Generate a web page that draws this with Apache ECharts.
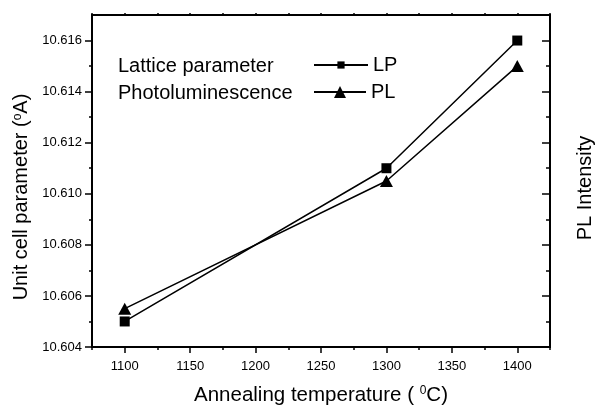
<!DOCTYPE html>
<html>
<head>
<meta charset="utf-8">
<script src="https://cdn.jsdelivr.net/npm/echarts@6/dist/echarts.min.js"></script>
<style>
html, body { margin: 0; padding: 0; background: #fff; }
#chart { width: 596px; height: 408px; }
</style>
</head>
<body>
<div id="chart"></div>
<script>
// annealing temperatures and measured values
const temps = [1100, 1300, 1400]
const lpValues = [10.605, 10.611, 10.616]
const plValues = [10.6055, 10.6105, 10.615]

const xMajorTicks = [1100, 1150, 1200, 1250, 1300, 1350, 1400]
const xMinorTicks = [1075, 1125, 1175, 1225, 1275, 1325, 1375, 1425]
const yMajorTicks = [10.604, 10.606, 10.608, 10.610, 10.612, 10.614, 10.616]
const yMinorTicks = [10.605, 10.607, 10.609, 10.611, 10.613, 10.615]

const FONT = 'Liberation Sans, Arial, sans-serif'
const supStyle = { fontSize: 12, verticalAlign: 'top', padding: [0, 0, 8, 0], fontFamily: FONT, color: '#000' }

const chart = echarts.init(document.getElementById('chart'))

const baseX = {
    type: 'value',
    min: 1075,
    max: 1425,
    splitLine: { show: false },
    axisLine: { lineStyle: { color: '#000', width: 2 } },
}
const baseY = {
    type: 'value',
    min: 10.604,
    max: 10.617,
    splitLine: { show: false },
    axisLine: { show: true, lineStyle: { color: '#000', width: 2 } },
}

chart.setOption({
    animation: false,
    grid: { left: 92, right: 46, top: 15, bottom: 61, outerBoundsMode: 'none', containLabel: false },
    xAxis: [
        Object.assign({}, baseX, {
            position: 'bottom',
            name: 'Annealing temperature ( {sup|0}C)',
            nameLocation: 'middle',
            nameGap: 38,
            nameTextStyle: { fontSize: 20.5, fontFamily: FONT, color: '#000', rich: { sup: supStyle } },
            axisTick: { customValues: xMajorTicks, length: 6, lineStyle: { color: '#000', width: 1.5 } },
            axisLabel: {
                customValues: xMajorTicks, margin: 13, fontSize: 13, fontFamily: FONT, color: '#000',
                formatter: v => String(v)
            },
        }),
        Object.assign({}, baseX, {
            position: 'bottom',
            axisTick: { customValues: xMinorTicks, length: 3, lineStyle: { color: '#000', width: 1.5 } },
            axisLabel: { show: false },
        }),
        Object.assign({}, baseX, {
            position: 'top',
            interval: 25,
            axisTick: { length: 2, lineStyle: { color: '#000', width: 1.5 } },
            axisLabel: { show: false },
        }),
    ],
    yAxis: [
        Object.assign({}, baseY, {
            position: 'left',
            name: 'Unit cell parameter ({sup|o}A)',
            nameLocation: 'middle',
            nameRotate: 90,
            nameGap: 60,
            nameTextStyle: { fontSize: 20, fontFamily: FONT, color: '#000', padding: [0, 32, 0, 0], rich: { sup: supStyle } },
            axisTick: { customValues: yMajorTicks, length: 7, lineStyle: { color: '#000', width: 1.5 } },
            axisLabel: {
                customValues: yMajorTicks, margin: 10, fontSize: 13, fontFamily: FONT, color: '#000',
                formatter: v => v.toFixed(3)
            },
        }),
        Object.assign({}, baseY, {
            position: 'left',
            axisTick: { customValues: yMinorTicks, length: 3, lineStyle: { color: '#000', width: 1.5 } },
            axisLabel: { show: false },
        }),
        Object.assign({}, baseY, {
            position: 'right',
            name: 'PL Intensity',
            nameLocation: 'middle',
            nameRotate: 90,
            nameGap: 25,
            nameTextStyle: { fontSize: 20, fontFamily: FONT, color: '#000', padding: [0, 14, 0, 0] },
            axisTick: { inside: true, customValues: yMajorTicks, length: 8, lineStyle: { color: '#000', width: 1.5 } },
            axisLabel: { show: false },
        }),
        Object.assign({}, baseY, {
            position: 'right',
            axisTick: { inside: true, customValues: yMinorTicks, length: 4, lineStyle: { color: '#000', width: 1.5 } },
            axisLabel: { show: false },
        }),
    ],
    legend: [
        {
            data: ['LP'], left: 313, top: 55, padding: 0,
            itemWidth: 54, itemHeight: 9, itemGap: 0,
            textStyle: { fontSize: 20, fontFamily: FONT, color: '#000' },
        },
        {
            data: ['PL'], left: 313, top: 82, padding: 0,
            itemWidth: 52, itemHeight: 15, itemGap: 0,
            textStyle: { fontSize: 20, fontFamily: FONT, color: '#000' },
        },
    ],
    graphic: [
        { type: 'text', left: 118, top: 56, style: { text: 'Lattice parameter', font: '20px ' + FONT, fill: '#000' } },
        { type: 'text', left: 118, top: 83, style: { text: 'Photoluminescence', font: '20px ' + FONT, fill: '#000' } },
    ],
    series: [
        {
            name: 'LP',
            type: 'line',
            data: temps.map((t, i) => [t, lpValues[i]]),
            symbol: 'rect',
            symbolSize: 10,
            itemStyle: { color: '#000', borderColor: '#000', borderWidth: 0, opacity: 1 },
            lineStyle: { color: '#000', width: 1.5 },
            z: 3,
        },
        {
            name: 'PL',
            type: 'line',
            data: temps.map((t, i) => [t, plValues[i]]),
            symbol: 'triangle',
            symbolSize: [13, 12],
            itemStyle: { color: '#000', borderColor: '#000', borderWidth: 0, opacity: 1 },
            lineStyle: { color: '#000', width: 1.5 },
            z: 3,
        },
    ],
})
</script>
</body>
</html>
